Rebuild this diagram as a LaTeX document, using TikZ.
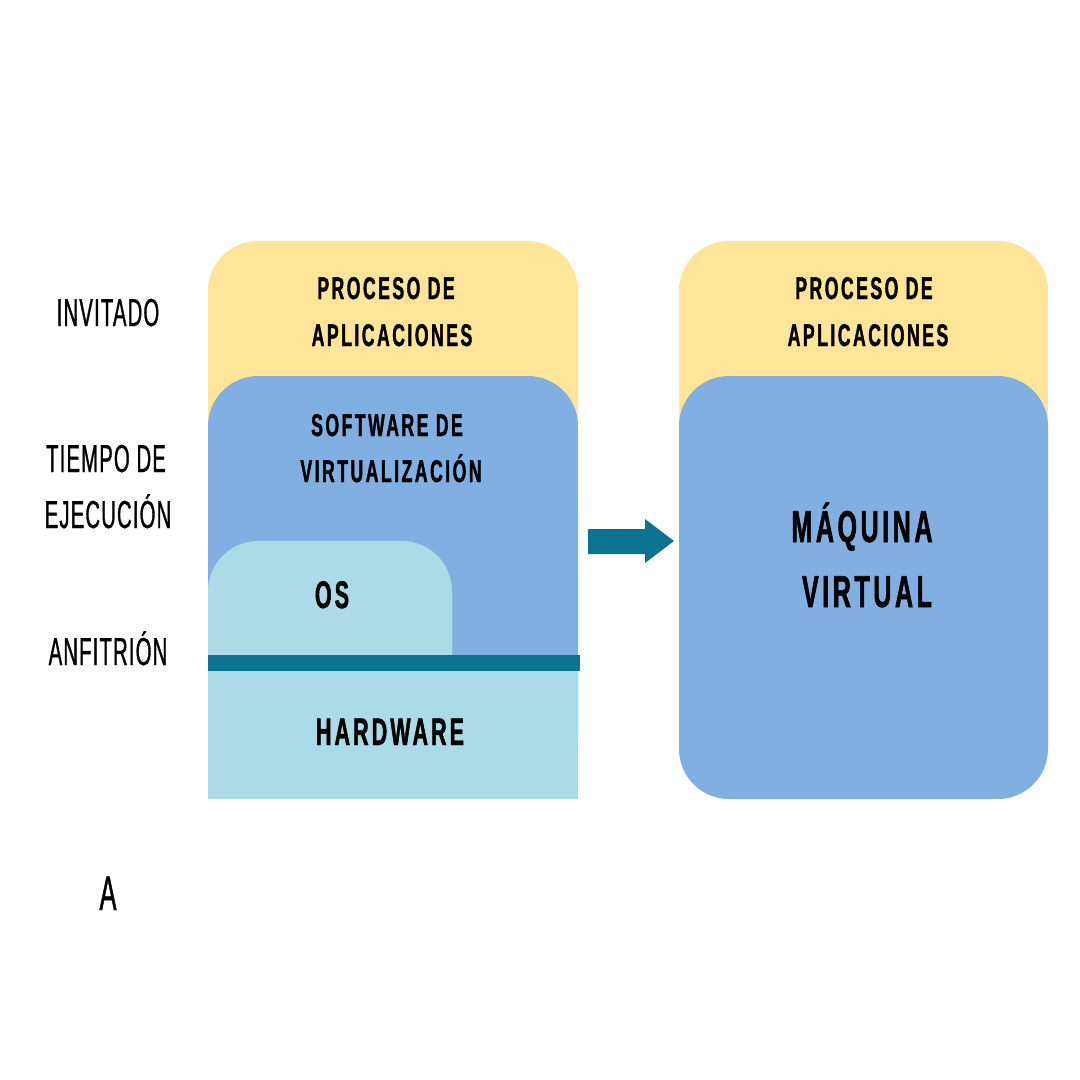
\documentclass[tikz,border=0pt]{standalone}
\usepackage{fontspec}
\setmainfont{Liberation Sans}
\newfontfamily\lblfont[FakeStretch=0.52,LetterSpace=3,FakeBold=0.8]{Liberation Sans}
\newfontfamily\hdfont[FakeStretch=0.56,LetterSpace=8,FakeBold=1.2]{Liberation Sans}
\definecolor{yel}{HTML}{FFE599}
\definecolor{blu}{HTML}{82AFE2}
\definecolor{cya}{HTML}{AADBE6}
\definecolor{teal}{HTML}{0B728F}
\tikzset{
  hd/.style={anchor=base,inner sep=0pt,font=\hdfont\bfseries\fontsize{31.4}{36}\selectfont},
  hdbig/.style={anchor=base,inner sep=0pt,font=\hdfont\bfseries\fontsize{38.4}{44}\selectfont},
  hdhuge/.style={anchor=base,inner sep=0pt,font=\hdfont\bfseries\fontsize{44.7}{50}\selectfont},
  lbl/.style={anchor=base,inner sep=0pt,font=\lblfont\fontsize{39}{44}\selectfont},
  lblbig/.style={anchor=base,inner sep=0pt,font=\lblfont\fontsize{49}{54}\selectfont},
}
\begin{document}
\begin{tikzpicture}[x=1pt,y=-1pt]
\useasboundingbox (0,0) rectangle (1080,1080);
\fill[white] (0,0) rectangle (1080,1080);
% left column
\fill[yel,rounded corners=50] (208,241) rectangle (578,560);
\fill[blu,rounded corners=50] (208,376) rectangle (578,790);
\fill[cya,rounded corners=50] (208,541) rectangle (452,720);
\fill[cya] (208,671) rectangle (578,799);
\fill[teal] (208,655) rectangle (580,671);
% right column
\fill[yel,rounded corners=50] (679,241) rectangle (1048,560);
\fill[blu,rounded corners=50] (679,376) rectangle (1048,799);
% arrow
\coordinate (as) at (588,541);
\coordinate (at) at (674,541);
\fill[teal] (588,529) -- (645,529) -- (645,519) -- (at) -- (645,563) -- (645,554) -- (588,554) -- cycle;
% texts left
\node[hd] (p1) at (386,299) {PROCESO DE};
\node[hd] (a1) at (392,346) {APLICACIONES};
\node[hd] (s1) at (387,436) {SOFTWARE DE};
\node[hd] (v1) at (391,482) {VIRTUALIZACIÓN};
\node[hdbig] (os) at (332,608) {OS};
\node[hdbig] (hw) at (390,745) {HARDWARE};
% texts right
\node[hd] (p2) at (864,299) {PROCESO DE};
\node[hd] (a2) at (868,346) {APLICACIONES};
\node[hdhuge] (mq) at (862,542) {MÁQUINA};
\node[hdhuge] (vt) at (867,607) {VIRTUAL};
% side labels
\node[lbl] (inv) at (108,326) {INVITADO};
\node[lbl] (tie) at (106,472) {TIEMPO DE};
\node[lbl] (eje) at (108,528) {EJECUCIÓN};
\node[lbl] (anf) at (108,665) {ANFITRIÓN};
\node[lblbig] (lA) at (108,910) {A};
\end{tikzpicture}
\end{document}
